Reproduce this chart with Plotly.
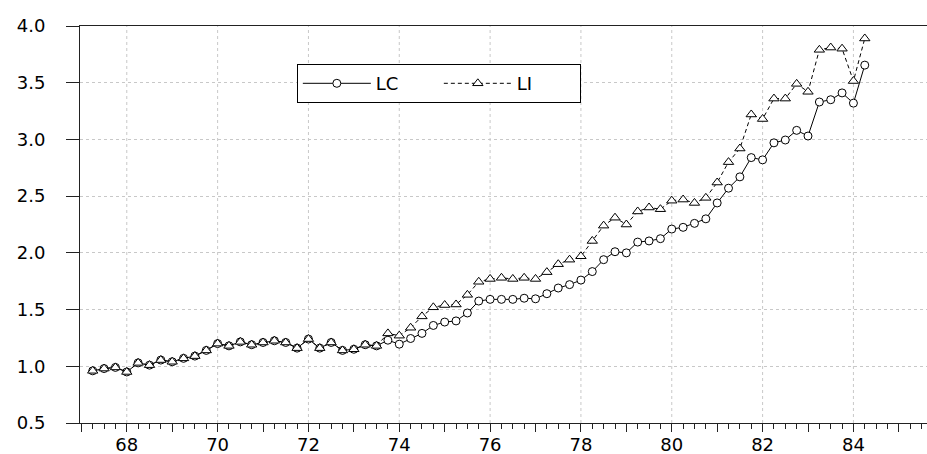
import plotly.graph_objects as go

# Quarterly observations (two-digit year + quarter fraction)
quarters = [67.25, 67.5, 67.75,
            68.0, 68.25, 68.5, 68.75,
            69.0, 69.25, 69.5, 69.75,
            70.0, 70.25, 70.5, 70.75,
            71.0, 71.25, 71.5, 71.75,
            72.0, 72.25, 72.5, 72.75,
            73.0, 73.25, 73.5, 73.75,
            74.0, 74.25, 74.5, 74.75,
            75.0, 75.25, 75.5, 75.75,
            76.0, 76.25, 76.5, 76.75,
            77.0, 77.25, 77.5, 77.75,
            78.0, 78.25, 78.5, 78.75,
            79.0, 79.25, 79.5, 79.75,
            80.0, 80.25, 80.5, 80.75,
            81.0, 81.25, 81.5, 81.75,
            82.0, 82.25, 82.5, 82.75,
            83.0, 83.25, 83.5, 83.75,
            84.0, 84.25]

LC = [0.96, 0.98, 0.99,
      0.95, 1.03, 1.01, 1.055,
      1.04, 1.07, 1.09, 1.14,
      1.20, 1.18, 1.215, 1.19,
      1.21, 1.225, 1.21, 1.16,
      1.24, 1.16, 1.21, 1.14,
      1.15, 1.19, 1.18, 1.23,
      1.195, 1.245, 1.29, 1.36,
      1.39, 1.40, 1.47, 1.575,
      1.59, 1.59, 1.59, 1.60,
      1.595, 1.64, 1.69, 1.72,
      1.76, 1.835, 1.94, 2.01,
      2.00, 2.095, 2.105, 2.125,
      2.21, 2.225, 2.26, 2.30,
      2.44, 2.57, 2.67, 2.84,
      2.82, 2.97, 2.995, 3.08,
      3.03, 3.33, 3.35, 3.41,
      3.32, 3.655]

LI = [0.96, 0.98, 0.99,
      0.95, 1.03, 1.01, 1.055,
      1.04, 1.07, 1.09, 1.14,
      1.20, 1.18, 1.215, 1.19,
      1.21, 1.225, 1.21, 1.16,
      1.24, 1.16, 1.21, 1.14,
      1.15, 1.19, 1.18, 1.29,
      1.27, 1.34, 1.44, 1.52,
      1.54, 1.545, 1.63, 1.745,
      1.77, 1.78, 1.77, 1.78,
      1.77, 1.83, 1.90, 1.94,
      1.97, 2.105, 2.24, 2.31,
      2.25, 2.365, 2.40, 2.385,
      2.46, 2.47, 2.44, 2.485,
      2.62, 2.80, 2.92, 3.22,
      3.18, 3.36, 3.36, 3.49,
      3.42, 3.79, 3.81, 3.80,
      3.515, 3.89]

year_ticks = [67, 68, 69, 70, 71, 72, 73, 74, 75, 76, 77, 78, 79, 80, 81, 82, 83, 84, 85]
year_labels = ["", "68", "", "70", "", "72", "", "74", "", "76", "", "78", "", "80", "", "82", "", "84", ""]
grid_years = [68, 70, 72, 74, 76, 78, 80, 82, 84]

FONT = "DejaVu Sans, Arial, sans-serif"
AXC = "#222222"
GRIDC = "#c8c8c8"

fig = go.Figure()
fig.add_trace(go.Scatter(
    x=quarters, y=LC, name="LC", mode="lines+markers",
    line=dict(color="black", width=1),
    marker=dict(symbol="circle", size=8, color="white", line=dict(color="black", width=1)),
))
fig.add_trace(go.Scatter(
    x=quarters, y=LI, name="LI", mode="lines+markers",
    line=dict(color="black", width=1, dash="4px,3px"),
    marker=dict(symbol="triangle-up", size=9, color="white", line=dict(color="black", width=1)),
))

shapes = []
for g in grid_years:
    shapes.append(dict(type="line", xref="x", yref="paper", x0=g, x1=g, y0=0, y1=1,
                       line=dict(color=GRIDC, width=1, dash="3px,3px"), layer="below"))

fig.update_layout(
    width=927, height=454,
    margin=dict(l=80, r=0, t=26, b=31, autoexpand=False),
    paper_bgcolor="white", plot_bgcolor="white",
    font=dict(family=FONT, size=18, color="black"),
    shapes=shapes,
    showlegend=True,
    legend=dict(
        orientation="h", x=0.256, y=0.904, xanchor="left", yanchor="top",
        bordercolor="black", borderwidth=1, bgcolor="white",
        font=dict(family=FONT, size=18, color="black"),
        itemwidth=68, entrywidth=58, entrywidthmode="pixels",
    ),
    xaxis=dict(
        range=[66.97, 85.62], automargin=False,
        tickmode="array", tickvals=year_ticks, ticktext=year_labels,
        ticks="outside", ticklen=8, tickcolor=AXC, tickwidth=1,
        minor=dict(dtick=0.25, tick0=0, ticks="outside", ticklen=5, tickcolor=AXC, showgrid=False),
        showgrid=False, zeroline=False,
        showline=True, linecolor=AXC, linewidth=1, mirror=True,
        tickfont=dict(family=FONT, size=18, color="black"),
        ticklabelstandoff=-3,
    ),
    yaxis=dict(
        range=[0.5, 4.0], dtick=0.5, tick0=0.5, tickformat=".1f", automargin=False,
        ticks="outside", ticklen=13, tickcolor=AXC, tickwidth=1,
        showgrid=True, gridcolor=GRIDC, griddash="3px,3px", gridwidth=1,
        zeroline=False, showline=True, linecolor=AXC, linewidth=1,
        tickfont=dict(family=FONT, size=18, color="black"),
        ticklabelstandoff=17,
    ),
)

fig.write_html(
    "out.html",
    config={"displayModeBar": False},
    post_script="document.body.style.margin='0';document.body.style.overflow='hidden';",
)
